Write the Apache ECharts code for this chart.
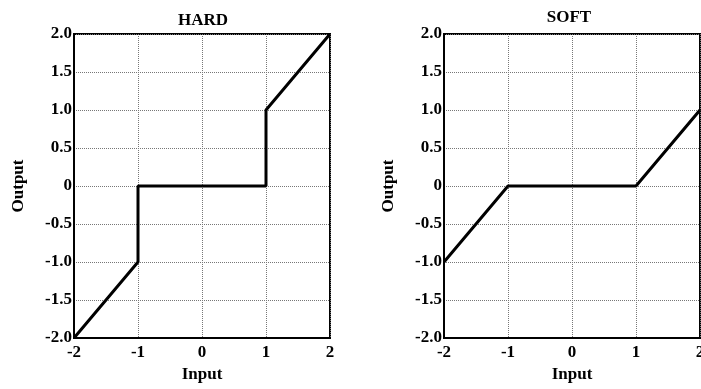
<!DOCTYPE html>
<html>
<head>
<meta charset="utf-8">
<script src="https://cdn.jsdelivr.net/npm/echarts@6/dist/echarts.min.js"></script>
<style>
html,body{margin:0;padding:0;background:#fff;}
#main{width:701px;height:389px;}
</style>
</head>
<body>
<div id="main"></div>
<script>
// data
var hardInput = [-2, -1, -1, 1, 1, 2];
var hardOutput = [-2, -1, 0, 0, 1, 2];
var softInput = [-2, -1, 1, 2];
var softOutput = [-1, 0, 0, 1];
var titles = ['HARD', 'SOFT'];

var FONT = '"Liberation Serif", "DejaVu Serif", serif';

function pairs(xs, ys) {
	var out = [];
	for (var i = 0; i < xs.length; i++) {
		out.push([xs[i], ys[i]]);
	}
	return out;
}

function xAxisFor(idx) {
	return {
		gridIndex: idx,
		type: 'value',
		min: -2, max: 2, interval: 1,
		name: 'Input',
		nameLocation: 'middle',
		nameGap: 27,
		nameTextStyle: { fontFamily: FONT, fontWeight: 'bold', fontSize: 17, color: '#000' },
		axisLine: { show: true, onZero: false, lineStyle: { color: '#000', width: 2 } },
		axisTick: { show: false },
		axisLabel: { fontFamily: FONT, fontWeight: 'bold', fontSize: 17, color: '#000', margin: 6 },
		splitLine: { show: true, lineStyle: { type: 'dotted', color: '#777', width: 1 } }
	};
}

function yAxisFor(idx) {
	return {
		gridIndex: idx,
		type: 'value',
		min: -2, max: 2, interval: 0.5,
		name: 'Output',
		nameLocation: 'middle',
		nameGap: 47,
		nameTextStyle: { fontFamily: FONT, fontWeight: 'bold', fontSize: 17, color: '#000' },
		axisLine: { show: true, onZero: false, lineStyle: { color: '#000', width: 2 } },
		axisTick: { show: false },
		axisLabel: {
			fontFamily: FONT, fontWeight: 'bold', fontSize: 17, color: '#000', margin: 2,
			formatter: function (v) { return v === 0 ? '0' : v.toFixed(1); }
		},
		splitLine: { show: true, lineStyle: { type: 'dotted', color: '#777', width: 1 } }
	};
}

function lineSeries(idx, data) {
	return {
		type: 'line',
		xAxisIndex: idx,
		yAxisIndex: idx,
		data: data,
		symbol: 'none',
		lineStyle: { color: '#000', width: 3 },
		animation: false
	};
}

var chart = echarts.init(document.getElementById('main'));
var option = {
	backgroundColor: '#fff',
	animation: false,
	title: [
		{ text: titles[0], left: 198, top: 7, textAlign: 'center',
		  textStyle: { fontFamily: FONT, fontWeight: 'bold', fontSize: 17, color: '#000' } },
		{ text: titles[1], left: 564, top: 4, textAlign: 'center',
		  textStyle: { fontFamily: FONT, fontWeight: 'bold', fontSize: 17, color: '#000' } }
	],
	grid: [
		{ left: 74, top: 34, width: 256, height: 304, show: true, borderColor: '#000', borderWidth: 2,
		  outerBoundsMode: 'none' },
		{ left: 444, top: 34, width: 256, height: 304, show: true, borderColor: '#000', borderWidth: 2,
		  outerBoundsMode: 'none' }
	],
	xAxis: [xAxisFor(0), xAxisFor(1)],
	yAxis: [yAxisFor(0), yAxisFor(1)],
	series: [
		lineSeries(0, pairs(hardInput, hardOutput)),
		lineSeries(1, pairs(softInput, softOutput))
	]
};
chart.setOption(option);
</script>
</body>
</html>
